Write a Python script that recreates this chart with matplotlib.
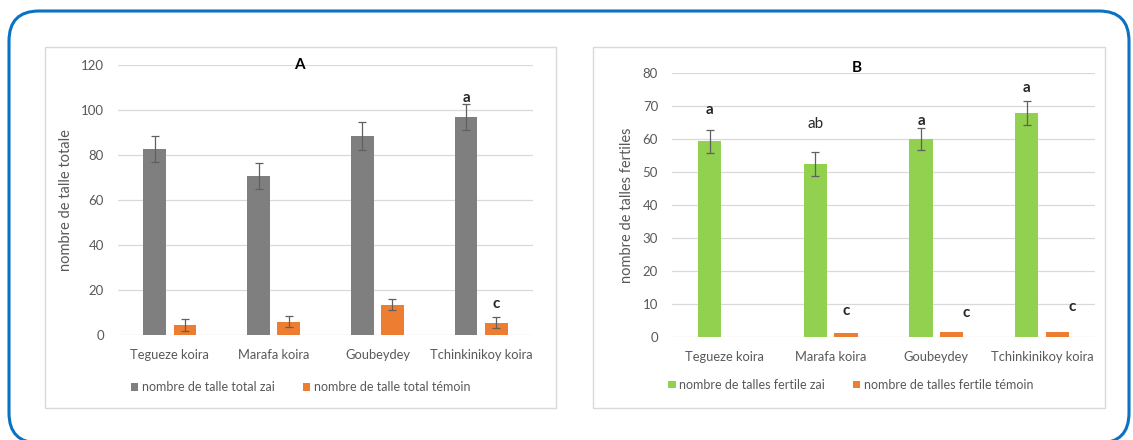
import matplotlib
matplotlib.use("Agg")
import matplotlib.pyplot as plt
from matplotlib.patches import FancyBboxPatch, Rectangle
import numpy as np

plt.rcParams['font.family'] = ['Lato', 'DejaVu Sans']

categories = ["Tegueze koira", "Marafa koira", "Goubeydey", "Tchinkinikoy koira"]

# Panel A: total tillers
a_zai = [82.5, 70.7, 88.4, 96.9]
a_zai_err = [5.8, 5.9, 6.1, 5.8]
a_temoin = [4.5, 6.0, 13.5, 5.5]
a_temoin_err = [2.5, 2.6, 2.5, 2.5]
a_labels = ["nombre de talle total zai", "nombre de talle total témoin"]
a_ylabel = "nombre de talle totale"
a_yticks = [0, 20, 40, 60, 80, 100, 120]

# Panel B: fertile tillers
b_zai = [59.3, 52.4, 60.0, 67.9]
b_zai_err = [3.5, 3.6, 3.3, 3.6]
b_temoin = [0.0, 1.0, 1.5, 1.5]
b_labels = ["nombre de talles fertile zai", "nombre de talles fertile témoin"]
b_ylabel = "nombre de talles fertiles"
b_yticks = [0, 10, 20, 30, 40, 50, 60, 70, 80]

# significance letters: (category index, series 0=zai / 1=temoin, letter, y)
a_letters = [(3, 0, "a", 105.5), (3, 1, "c", 14.0)]
b_letters = [(0, 0, "a", 69.0), (1, 0, "ab", 64.6), (2, 0, "a", 65.6), (3, 0, "a", 75.5),
             (1, 1, "c", 7.9), (2, 1, "c", 7.2), (3, 1, "c", 9.0)]

GREY = "#7f7f7f"
ORANGE = "#ed7d31"
GREEN = "#92d050"
TXT = "#595959"
GRID = "#d9d9d9"

W, H = 1133, 440
fig = plt.figure(figsize=(W / 100, H / 100), dpi=100)
fig.patch.set_facecolor("white")

# overlay in pixel coordinates (y measured upward) for frames
ov = fig.add_axes([0, 0, 1, 1], zorder=-1)
ov.set_xlim(0, W)
ov.set_ylim(0, H)
ov.axis("off")
ov.add_patch(FancyBboxPatch((9, H - 443), 1129 - 9, 443 - 11,
                            boxstyle="round,pad=0,rounding_size=30",
                            fill=False, edgecolor="#0a72c2", linewidth=2.2,
                            clip_on=False))
for (x0, y0, x1, y1) in [(45, 47, 556, 408), (593, 47, 1105, 408)]:
    ov.add_patch(Rectangle((x0, H - y1), x1 - x0, y1 - y0, fill=False,
                           edgecolor=GRID, linewidth=1.0))

def px_axes(x0, x1, ytop, ybot):
    return fig.add_axes([x0 / W, 1 - ybot / H, (x1 - x0) / W, (ybot - ytop) / H])

axA = px_axes(118, 533, 65, 335)
axB = px_axes(672, 1095, 73.3, 336.7)

bw = 0.22
off = 0.145
x = np.arange(len(categories))

def style(ax, yticks, ylabel):
    ax.set_xlim(-0.5, len(categories) - 0.5)
    ax.set_ylim(yticks[0], yticks[-1])
    ax.set_yticks(yticks)
    ax.set_xticks(x)
    ax.set_xticklabels(categories)
    for s in ax.spines.values():
        s.set_visible(False)
    ax.yaxis.grid(True, color=GRID, linewidth=0.9)
    ax.set_axisbelow(True)
    ax.tick_params(axis='both', length=0, colors=TXT)
    ax.tick_params(axis='y', pad=10, labelsize=9.5)
    ax.tick_params(axis='x', pad=10, labelsize=9.3)
    ax.set_ylabel(ylabel, color=TXT, fontsize=10.5, labelpad=6)

# Panel A
ekw = dict(ecolor="#606060", elinewidth=0.9, capsize=3, capthick=0.9)
axA.bar(x - off, a_zai, bw, color=GREY, yerr=a_zai_err, error_kw=ekw,
        label=a_labels[0], zorder=2)
axA.bar(x + off, a_temoin, bw, color=ORANGE, yerr=a_temoin_err, error_kw=ekw,
        label=a_labels[1], zorder=2)
style(axA, a_yticks, a_ylabel)
axA.text(1.25, 120, "A", ha="center", va="center", fontsize=11, fontweight="bold")
for i, s, t, y in a_letters:
    axA.text(i + (off if s else -off), y, t, ha="center", va="center",
             fontsize=11, fontweight="bold", color="#262626")
axA.legend(loc="center", bbox_to_anchor=(0.44, -0.193), ncol=2, frameon=False,
           handlelength=0.6, handleheight=0.6, handletextpad=0.3,
           columnspacing=2.2, fontsize=9, labelcolor=TXT)

# Panel B
axB.bar(x - off, b_zai, bw, color=GREEN, yerr=b_zai_err, error_kw=ekw,
        label=b_labels[0], zorder=2)
axB.bar(x + off, b_temoin, bw, color=ORANGE, label=b_labels[1], zorder=2)
style(axB, b_yticks, b_ylabel)
axB.text(1.25, 81.5, "B", ha="center", va="center", fontsize=11, fontweight="bold")
for i, s, t, y in b_letters:
    xx = i + (off if s else -off)
    if s and i >= 2:
        xx += 0.14
    axB.text(xx, y, t, ha="center", va="center", fontsize=11,
             fontweight="normal" if t == "ab" else "bold", color="#262626")
axB.legend(loc="center", bbox_to_anchor=(0.423, -0.183), ncol=2, frameon=False,
           handlelength=0.6, handleheight=0.6, handletextpad=0.3,
           columnspacing=2.2, fontsize=9, labelcolor=TXT)

fig.savefig("out.png", dpi=100, facecolor="white")
